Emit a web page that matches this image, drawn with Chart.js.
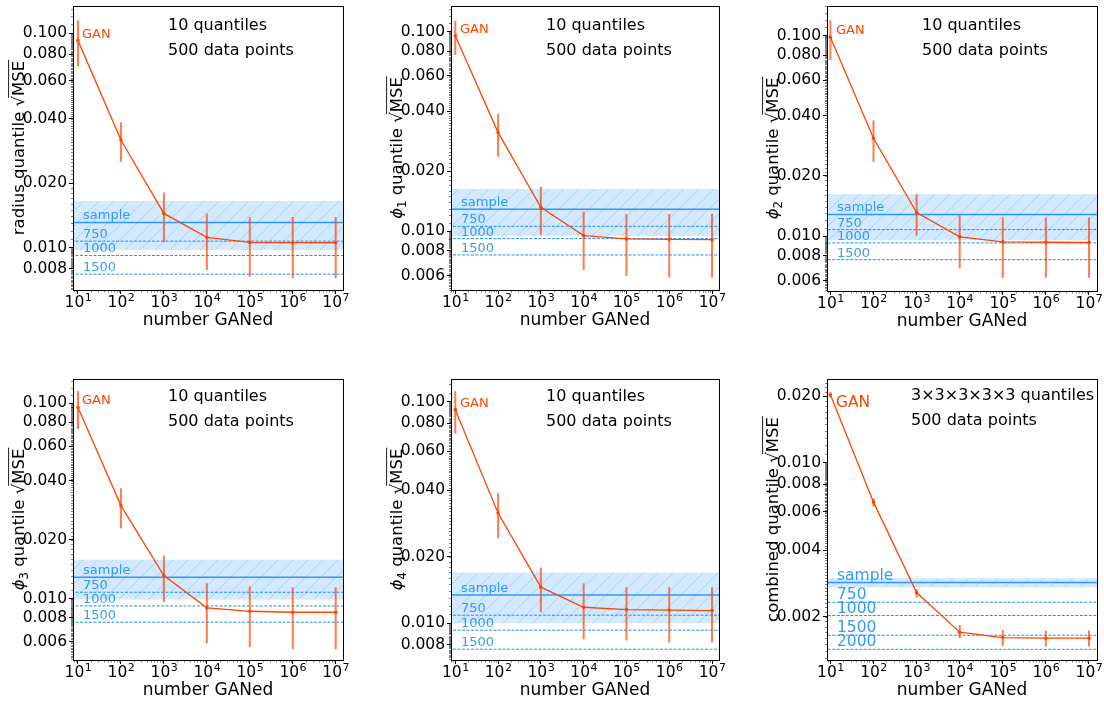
<!DOCTYPE html>
<html>
<head>
<meta charset="utf-8">
<script src="https://cdn.jsdelivr.net/npm/chart.js@4.4.0/dist/chart.umd.min.js"></script>
<style>
  html, body { margin: 0; padding: 0; background: #fff; width: 1104px; height: 704px; overflow: hidden; }
  canvas { position: absolute; }
</style>
</head>
<body>
<script>
// x values: number of events generated
const nGANed = [1e1, 1e2, 1e3, 1e4, 1e5, 1e6, 1e7];

// radius
const radiusGAN    = [0.0924, 0.0318, 0.01445, 0.01117, 0.0106, 0.01055, 0.01055];
const radiusLo     = [0.070, 0.0252, 0.0106, 0.00787, 0.00733, 0.0072, 0.0072];
const radiusHi     = [0.115, 0.0385, 0.0181, 0.01445, 0.01387, 0.0139, 0.0139];
const radiusSample = [0.00976, 0.01312, 0.01652];   // band low, value, band high
const radiusRefs   = [0.01073, 0.0092, 0.00753];    // 750, 1000, 1500

// phi_1
const phi1GAN    = [0.0955, 0.0313, 0.01318, 0.00951, 0.00916, 0.00912, 0.00908];
const phi1Lo     = [0.0764, 0.0237, 0.0096, 0.0064, 0.00597, 0.00586, 0.00586];
const phi1Hi     = [0.1136, 0.0387, 0.01674, 0.01254, 0.01222, 0.01222, 0.01222];
const phi1Sample = [0.00948, 0.01289, 0.01629];
const phi1Refs   = [0.01059, 0.00919, 0.00761];

// phi_2
const phi2GAN    = [0.0981, 0.0308, 0.01313, 0.00992, 0.00937, 0.00933, 0.0093];
const phi2Lo     = [0.0757, 0.0235, 0.01004, 0.0069, 0.0062, 0.0062, 0.0062];
const phi2Hi     = [0.1189, 0.0379, 0.01621, 0.01273, 0.01239, 0.01239, 0.01239];
const phi2Sample = [0.00955, 0.01283, 0.01621];
const phi2Refs   = [0.01079, 0.00926, 0.00764];

// phi_3
const phi3GAN    = [0.0950, 0.0299, 0.01312, 0.00896, 0.00861, 0.00851, 0.00851];
const phi3Lo     = [0.0736, 0.0229, 0.00958, 0.0059, 0.00564, 0.0055, 0.0055];
const phi3Hi     = [0.1148, 0.0367, 0.0166, 0.01198, 0.01152, 0.01143, 0.01143];
const phi3Sample = [0.00988, 0.01286, 0.01578];
const phi3Refs   = [0.01077, 0.00917, 0.00757];

// phi_4
const phi4GAN    = [0.0923, 0.0315, 0.01455, 0.01181, 0.01153, 0.01145, 0.01141];
const phi4Lo     = [0.0719, 0.0243, 0.01122, 0.00847, 0.00835, 0.00818, 0.00818];
const phi4Hi     = [0.1117, 0.0388, 0.01786, 0.01517, 0.01455, 0.01455, 0.01455];
const phi4Sample = [0.0100, 0.01343, 0.01695];
const phi4Refs   = [0.01087, 0.0093, 0.00763];

// combined
const combGAN    = [0.02035, 0.00662, 0.00257, 0.001698, 0.001606, 0.001595, 0.001595];
const combLo     = [0.0197, 0.00632, 0.00244, 0.001594, 0.001476, 0.001462, 0.001462];
const combHi     = [0.0209, 0.00689, 0.00266, 0.001833, 0.00174, 0.001727, 0.001727];
const combSample = [0.002719, 0.002854, 0.002985];
const combRefs   = [0.002323, 0.002022, 0.001645, 0.00142];

const refLabels     = ['750', '1000', '1500'];
const refLabelsComb = ['750', '1000', '1500', '2000'];

const yTicksA = [0.1, 0.08, 0.06, 0.04, 0.02, 0.01, 0.008];
const yTicksB = [0.1, 0.08, 0.06, 0.04, 0.02, 0.01, 0.008, 0.006];
const yTicksC = [0.02, 0.01, 0.008, 0.006, 0.004, 0.002];

const notes10   = ['10 quantiles', '500 data points'];
const notesComb = ['3\u00d73\u00d73\u00d73\u00d73 quantiles', '500 data points'];

const panels = [
  { name: 'radius quantile ', sub: null, gan: radiusGAN, lo: radiusLo, hi: radiusHi, sample: radiusSample, refs: radiusRefs, refLabels, yTicks: yTicksA, yMin: 0.00635, yMax: 0.134, notes: notes10 },
  { name: null, sub: '1', gan: phi1GAN, lo: phi1Lo, hi: phi1Hi, sample: phi1Sample, refs: phi1Refs, refLabels, yTicks: yTicksB, yMin: 0.00508, yMax: 0.1345, notes: notes10 },
  { name: null, sub: '2', gan: phi2GAN, lo: phi2Lo, hi: phi2Hi, sample: phi2Sample, refs: phi2Refs, refLabels, yTicks: yTicksB, yMin: 0.00533, yMax: 0.1406, notes: notes10 },
  { name: null, sub: '3', gan: phi3GAN, lo: phi3Lo, hi: phi3Hi, sample: phi3Sample, refs: phi3Refs, refLabels, yTicks: yTicksB, yMin: 0.00485, yMax: 0.1328, notes: notes10 },
  { name: null, sub: '4', gan: phi4GAN, lo: phi4Lo, hi: phi4Hi, sample: phi4Sample, refs: phi4Refs, refLabels, yTicks: yTicksA, yMin: 0.00682, yMax: 0.127, notes: notes10 },
  { name: 'combined quantile ', sub: null, gan: combGAN, lo: combLo, hi: combHi, sample: combSample, refs: combRefs, refLabels: refLabelsComb, yTicks: yTicksC, yMin: 0.00127, yMax: 0.02399, notes: notesComb },
];

// axes boxes on the page
const boxes = [
  { left: 73,  top: 6,   w: 270, h: 284, xr: [0.884, 7.17],  small: 13,   noteX: 95, noteY: [23.5, 49], ganDy: -3 },
  { left: 451, top: 6,   w: 268, h: 284, xr: [0.90, 7.163],  small: 13,   noteX: 95, noteY: [23.5, 49], ganDy: -3 },
  { left: 827, top: 6,   w: 270, h: 285, xr: [0.921, 7.186], small: 13,   noteX: 95, noteY: [23.5, 49], ganDy: -3 },
  { left: 73,  top: 379, w: 270, h: 281, xr: [0.884, 7.17],  small: 13,   noteX: 95, noteY: [22, 47],   ganDy: -3 },
  { left: 451, top: 379, w: 268, h: 281, xr: [0.90, 7.163],  small: 13,   noteX: 95, noteY: [22, 47],   ganDy: -3 },
  { left: 827, top: 379, w: 270, h: 281, xr: [0.921, 7.186], small: 15.5, noteX: 84, noteY: [21, 46],   ganDy: 12 },
];

const FONT = "'DejaVu Sans', sans-serif";
const ORANGE = '#ff4500';
const BLUE = '#1e90ff';

Chart.defaults.font.family = FONT;
Chart.defaults.font.size = 16;
Chart.defaults.color = '#000';

function hatchPattern(ctx) {
  const c = document.createElement('canvas');
  c.width = c.height = 15;
  const g = c.getContext('2d');
  g.fillStyle = 'rgba(30,144,255,0.2)';
  g.fillRect(0, 0, 15, 15);
  g.strokeStyle = 'rgba(30,144,255,0.3)';
  g.lineWidth = 0.8;
  g.beginPath(); g.moveTo(-2, 17); g.lineTo(17, -2); g.stroke();
  return ctx.createPattern(c, 'repeat');
}

function drawYLabel(ctx, cx, cy, p) {
  const size = 16.5;
  const parts = [];
  if (p.sub) {
    parts.push({ t: '\u03d5', f: `italic ${size}px ${FONT}`, dy: 0 });
    parts.push({ t: p.sub, f: `${size * 0.7}px ${FONT}`, dy: 4 });
    parts.push({ t: ' quantile ', f: `${size}px ${FONT}`, dy: 0 });
  } else {
    parts.push({ t: p.name, f: `${size}px ${FONT}`, dy: 0 });
  }
  parts.push({ t: '\u221a', f: `${size}px ${FONT}`, dy: 0, rad: true });
  parts.push({ t: 'MSE', f: `${size}px ${FONT}`, dy: 0, over: true });
  let total = 0;
  parts.forEach(pt => { ctx.font = pt.f; pt.w = ctx.measureText(pt.t).width; total += pt.w; });
  ctx.save();
  ctx.translate(cx, cy);
  ctx.rotate(-Math.PI / 2);
  ctx.fillStyle = '#000';
  ctx.strokeStyle = '#000';
  ctx.textBaseline = 'alphabetic';
  ctx.textAlign = 'left';
  let x = -total / 2;
  const base = size * 0.36;
  let radEnd = 0;
  parts.forEach(pt => {
    ctx.font = pt.f;
    ctx.fillText(pt.t, x, base + pt.dy);
    if (pt.rad) radEnd = x + pt.w * 0.82;
    if (pt.over) {
      ctx.lineWidth = 0.9;
      ctx.beginPath();
      ctx.moveTo(radEnd, base - size * 0.93);
      ctx.lineTo(x + pt.w + 1, base - size * 0.93);
      ctx.stroke();
    }
    x += pt.w;
  });
  ctx.restore();
}

// x tick labels 10^k with a raised exponent, placed through the x scale
function drawXTickLabels(ctx, a, x) {
  ctx.save();
  ctx.fillStyle = '#000';
  ctx.textBaseline = 'alphabetic';
  nGANed.forEach(v => {
    const px = x.getPixelForValue(v);
    const e = String(Math.round(Math.log10(v)));
    ctx.font = `15.5px ${FONT}`;
    const wb = ctx.measureText('10').width;
    ctx.font = `11px ${FONT}`;
    const we = ctx.measureText(e).width;
    const left = px - (wb + we) / 2;
    ctx.font = `15.5px ${FONT}`;
    ctx.fillText('10', left, a.bottom + 17);
    ctx.font = `11px ${FONT}`;
    ctx.fillText(e, left + wb + 0.5, a.bottom + 10.5);
  });
  ctx.restore();
}

const decorPlugin = {
  id: 'decor',
  afterDatasetsDraw(chart) {
    const { ctx, chartArea: a, scales: { x, y } } = chart;
    const p = chart.options.plugins.decor.panel;
    const b = chart.options.plugins.decor.box;
    ctx.save();
    // reference labels
    ctx.fillStyle = 'rgba(30,144,255,0.9)';
    ctx.font = `${b.small}px ${FONT}`;
    ctx.textBaseline = 'alphabetic';
    ctx.textAlign = 'left';
    ctx.fillText('sample', a.left + 10, y.getPixelForValue(p.sample[1]) - 3);
    p.refs.forEach((v, i) => ctx.fillText(p.refLabels[i], a.left + 10, y.getPixelForValue(v) - 3));
    // GAN label
    ctx.fillStyle = ORANGE;
    ctx.fillText('GAN', a.left + 9, y.getPixelForValue(p.gan[0]) + b.ganDy);
    // notes
    ctx.fillStyle = '#000';
    ctx.font = `16px ${FONT}`;
    p.notes.forEach((t, i) => ctx.fillText(t, a.left + b.noteX, a.top + b.noteY[i]));
    ctx.restore();
  },
  afterDraw(chart) {
    const { ctx, chartArea: a, scales: { x, y } } = chart;
    const p = chart.options.plugins.decor.panel;
    ctx.save();
    ctx.strokeStyle = '#000';
    ctx.lineWidth = 0.5;
    ctx.beginPath();
    for (let k = 0; k < 8; k++) {
      for (let m = 2; m < 10; m++) {
        const v = m * Math.pow(10, k);
        if (v < x.min || v > x.max) continue;
        const px = Math.round(x.getPixelForValue(v)) + 0.5;
        ctx.moveTo(px, a.bottom); ctx.lineTo(px, a.bottom + 2.5);
      }
    }
    for (let d = -4; d < 0; d++) {
      const step = Math.pow(10, d - 1);
      for (let m = 10; m < 100; m++) {
        const v = m * step;
        if (v < y.min || v > y.max) continue;
        const py = Math.round(y.getPixelForValue(v)) + 0.5;
        ctx.moveTo(a.left, py); ctx.lineTo(a.left - 2, py);
      }
    }
    ctx.stroke();
    ctx.lineWidth = 1;
    ctx.strokeRect(Math.round(a.left) + 0.5, Math.round(a.top) + 0.5, Math.round(a.right - a.left), Math.round(a.bottom - a.top));
    ctx.restore();
    drawXTickLabels(ctx, a, x);
    drawYLabel(ctx, a.left - 55, (a.top + a.bottom) / 2, p);
  }
};

panels.forEach((p, idx) => {
  const b = boxes[idx];
  const cv = document.createElement('canvas');
  const W = b.w + 80, H = b.h + 51;
  cv.width = W; cv.height = H;
  cv.style.left = (b.left - 73) + 'px';
  cv.style.top = (b.top - 6) + 'px';
  cv.style.width = W + 'px'; cv.style.height = H + 'px';
  document.body.appendChild(cv);
  const ctx = cv.getContext('2d');

  const edge = [1, 1e9];
  const errData = [];
  nGANed.forEach((n, i) => {
    errData.push({ x: n, y: p.lo[i] }, { x: n, y: p.hi[i] }, { x: n, y: null });
  });

  const datasets = [
    { data: edge.map(v => ({ x: v, y: p.sample[0] })), borderWidth: 0, pointRadius: 0, fill: '+1', backgroundColor: hatchPattern(ctx), order: 6 },
    { data: edge.map(v => ({ x: v, y: p.sample[2] })), borderWidth: 0, pointRadius: 0, fill: false, order: 6 },
    { data: edge.map(v => ({ x: v, y: p.sample[1] })), borderColor: 'rgba(30,144,255,0.9)', borderWidth: 1.5, pointRadius: 0, order: 4 },
    ...p.refs.map(v => ({ data: edge.map(e => ({ x: e, y: v })), borderColor: BLUE, borderWidth: 1, borderDash: [3, 1.5], pointRadius: 0, order: 5 })),
    { data: errData, borderColor: 'rgba(255,69,0,0.7)', borderWidth: 2, pointRadius: 0, spanGaps: false, order: 2 },
    { data: nGANed.map((n, i) => ({ x: n, y: p.gan[i] })), borderColor: ORANGE, borderWidth: 1.3, pointRadius: 1.8, pointBackgroundColor: ORANGE, pointBorderWidth: 0, order: 1 },
  ];

  new Chart(cv, {
    type: 'line',
    data: { datasets },
    options: {
      responsive: false,
      animation: false,
      clip: 0,
      layout: { padding: { left: 0, top: 6, right: 7, bottom: 0 } },
      plugins: {
        legend: { display: false },
        tooltip: { enabled: false },
        decor: { panel: p, box: b },
      },
      scales: {
        x: {
          type: 'logarithmic',
          min: Math.pow(10, b.xr[0]),
          max: Math.pow(10, b.xr[1]),
          afterBuildTicks: s => { s.ticks = nGANed.map(v => ({ value: v })); },
          afterFit: s => { s.height = 45; s.paddingLeft = 0; s.paddingRight = 0; },
          ticks: { display: false, autoSkip: false, maxRotation: 0 },
          grid: { drawOnChartArea: false, drawTicks: true, tickLength: 4, tickColor: '#000', tickWidth: 1 },
          border: { display: true, color: '#000', width: 1 },
          title: { display: true, text: 'number GANed', color: '#000', font: { family: FONT, size: 17 }, padding: { top: 0, bottom: 4 } },
        },
        y: {
          type: 'logarithmic',
          min: p.yMin,
          max: p.yMax,
          afterBuildTicks: s => { s.ticks = p.yTicks.map(v => ({ value: v })); },
          afterFit: s => { s.width = 73; s.paddingTop = 0; s.paddingBottom = 0; },
          ticks: {
            autoSkip: false, color: '#000', padding: 2,
            font: { family: FONT, size: 15.5 },
            callback: v => Number(v).toFixed(3),
          },
          grid: { drawOnChartArea: false, drawTicks: true, tickLength: 4, tickColor: '#000', tickWidth: 1 },
          border: { display: true, color: '#000', width: 1 },
        },
      },
    },
    plugins: [decorPlugin],
  });
});
</script>
</body>
</html>
